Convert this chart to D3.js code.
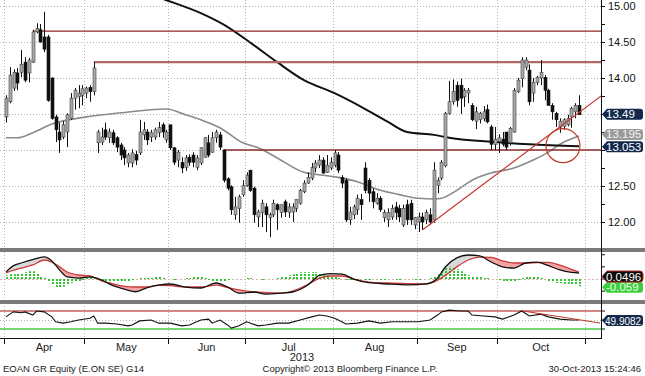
<!DOCTYPE html>
<html>
<head>
<meta charset="utf-8">
<script src="https://cdn.jsdelivr.net/npm/d3@7/dist/d3.min.js"></script>
<style>
  body { margin: 0; background: #fff; }
  svg { display: block; font-family: "Liberation Sans", Arial, sans-serif; }
</style>
</head>
<body>
<div id="chart"></div>
<script>
// EOAN GR daily candles, Apr 2 - Oct 30 2013
// rows are [open, high, low, close]
var ohlc = [
  [13.46,13.76,13.38,13.72],[13.67,14.15,13.65,14.04],[13.86,14.12,13.82,14.08],[14.07,14.14,13.83,13.93],
  [14.08,14.39,14.01,14.19],[14.22,14.29,13.94,13.97],[14.07,14.28,13.94,14.25],[14.22,14.67,14.21,14.64],
  [14.64,14.76,14.62,14.69],[14.67,14.75,14.49,14.50],[14.57,14.92,14.36,14.40],[14.57,14.60,13.67,13.69],
  [14.00,14.01,13.42,13.44],[13.46,13.49,13.11,13.28],[13.25,13.38,12.96,13.14],[13.18,13.40,13.15,13.35],
  [13.25,13.51,13.04,13.49],[13.44,13.79,13.42,13.72],[13.72,13.86,13.56,13.83],[13.74,13.90,13.58,13.79],
  [13.76,13.90,13.62,13.85],[13.79,13.88,13.72,13.86],[13.87,13.90,13.67,13.81],[13.81,14.22,13.76,14.14],
  [13.10,13.28,12.96,13.25],[13.11,13.31,13.07,13.18],[13.28,13.38,13.14,13.18],[13.17,13.30,13.10,13.25],
  [13.24,13.28,13.07,13.10],[13.17,13.19,12.97,13.04],[13.07,13.10,12.86,12.93],[13.00,13.04,12.79,12.89],
  [12.82,12.96,12.76,12.93],[12.82,13.01,12.76,12.96],[12.94,12.99,12.79,12.86],[12.96,13.42,12.93,13.25],
  [13.21,13.39,13.14,13.28],[13.25,13.29,13.07,13.14],[13.18,13.28,13.11,13.24],[13.18,13.31,13.14,13.28],
  [13.24,13.39,13.18,13.31],[13.35,13.38,13.17,13.25],[13.14,13.28,13.10,13.25],[13.35,13.35,13.00,13.03],
  [13.03,13.04,12.79,12.83],[12.86,13.00,12.76,12.97],[12.83,12.90,12.68,12.75],[12.76,12.93,12.71,12.89],
  [12.90,12.94,12.78,12.83],[12.93,12.97,12.76,12.83],[12.76,12.93,12.72,12.89],[12.82,13.04,12.79,13.03],
  [12.90,13.18,12.89,13.17],[13.10,13.21,12.90,12.93],[12.97,13.25,12.96,13.17],[13.17,13.28,13.10,13.25],
  [13.21,13.25,13.00,13.04],[13.00,13.01,12.55,12.58],[12.60,12.62,12.44,12.47],[12.49,12.51,12.10,12.17],
  [12.10,12.35,12.03,12.21],[12.19,12.38,11.99,12.35],[12.38,12.58,12.35,12.51],[12.51,12.69,12.49,12.65],
  [12.72,12.72,12.42,12.44],[12.47,12.49,11.99,12.10],[12.07,12.17,11.93,12.14],[12.13,12.31,11.93,12.26],
  [12.21,12.26,11.86,12.10],[12.06,12.13,11.79,12.10],[12.10,12.31,12.07,12.26],[12.24,12.26,11.89,12.17],
  [12.13,12.24,12.06,12.24],[12.28,12.31,12.07,12.14],[12.13,12.26,12.06,12.21],[12.14,12.26,12.00,12.21],
  [12.19,12.31,12.14,12.31],[12.26,12.46,12.24,12.44],[12.42,12.58,12.40,12.54],[12.54,12.69,12.53,12.62],
  [12.61,12.82,12.58,12.76],[12.75,12.86,12.69,12.82],[12.79,12.93,12.75,12.86],[12.86,12.90,12.67,12.68],
  [12.69,12.93,12.68,12.79],[12.75,12.90,12.72,12.83],[12.79,13.00,12.76,12.96],[12.93,12.97,12.68,12.72],
  [12.62,12.65,12.47,12.54],[12.58,12.61,12.00,12.03],[12.03,12.21,11.96,12.14],[12.10,12.24,12.04,12.21],
  [12.17,12.38,12.10,12.33],[12.31,12.39,12.03,12.24],[12.75,12.83,12.40,12.44],[12.58,12.61,12.28,12.40],
  [12.42,12.47,12.19,12.28],[12.26,12.40,12.24,12.33],[12.33,12.36,12.14,12.17],[12.06,12.17,12.00,12.13],
  [12.03,12.19,11.93,12.13],[12.07,12.24,12.03,12.19],[12.21,12.28,12.03,12.13],[12.19,12.24,12.00,12.07],
  [11.96,12.24,11.93,12.19],[12.24,12.31,11.96,12.03],[12.26,12.31,11.96,12.03],[11.96,12.07,11.90,12.06],
  [12.00,12.13,11.86,12.07],[12.07,12.13,11.89,12.00],[12.03,12.17,11.97,12.13],[12.10,12.19,11.96,12.00],
  [12.03,12.83,11.99,12.72],[12.51,12.62,12.40,12.58],[12.61,12.86,12.58,12.83],[12.78,13.53,12.76,13.51],
  [13.51,13.96,13.49,13.67],[13.67,13.98,13.63,13.81],[13.90,13.95,13.60,13.69],[13.90,13.99,13.50,13.72],
  [13.74,13.86,13.60,13.83],[13.79,13.86,13.65,13.83],[13.62,13.65,13.40,13.42],[13.40,13.60,13.29,13.53],
  [13.42,13.53,13.37,13.51],[13.44,13.61,13.40,13.53],[13.56,13.63,13.37,13.39],[13.32,13.35,13.00,13.08],
  [13.08,13.32,13.00,13.15],[13.12,13.22,12.96,13.17],[13.15,13.25,13.05,13.08],[13.25,13.25,13.00,13.04],
  [13.10,13.32,13.06,13.30],[13.25,13.86,13.24,13.83],[13.81,14.00,13.79,13.97],[13.99,14.29,13.87,14.25],
  [14.15,14.29,14.11,14.25],[14.11,14.19,13.62,13.67],[13.79,14.00,13.67,13.94],[13.94,14.03,13.90,14.01],
  [14.00,14.25,13.90,14.08],[14.01,14.04,13.69,13.83],[13.83,13.85,13.62,13.62],[13.62,13.65,13.42,13.53],
  [13.51,13.53,13.32,13.42],[13.32,13.44,13.24,13.40],[13.33,13.44,13.28,13.42],[13.35,13.49,13.33,13.44],
  [13.46,13.60,13.31,13.58],[13.53,13.65,13.44,13.62],[13.62,13.76,13.49,13.49]
];

// moving averages, sampled at trading-day index
var ma200Days = [30, 42, 51, 57, 64, 71, 78, 86, 93, 100, 105, 112, 116, 128, 137, 150];
var ma200 = [15.30, 15.08, 14.90, 14.74, 14.49, 14.22, 13.97, 13.79, 13.60, 13.39, 13.25, 13.21, 13.17, 13.11, 13.08, 13.053];
var ma50Days = [0, 3, 7, 12, 21, 29, 42, 47, 51, 56, 62, 66, 71, 78, 83, 87, 92, 98, 103, 108, 112, 114, 118, 122, 127, 133, 138, 142, 145, 150];
var ma50 = [13.17, 13.17, 13.24, 13.36, 13.46, 13.51, 13.57, 13.49, 13.42, 13.31, 13.10, 13.03, 12.89, 12.69, 12.65, 12.62, 12.56, 12.44, 12.38, 12.33, 12.32, 12.33, 12.44, 12.58, 12.68, 12.75, 12.86, 12.97, 13.08, 13.195];

// drawn-in analysis lines
var levelPrice = [14.65, 14.22, 13.00];
var levelFrom = [7, 23, 57];
var trendDays = [109, 155.8];
var trendPrice = [11.89, 13.75];

// MACD panel
var macdDays = [0,2,4,7,10,12,14,16,19,22,25,28,31,34,37,40,43,47,51,55,58,61,65,68,72,75,79,82,85,88,91,95,100,105,110,113,115,118,121,124,127,130,133,136,139,142,145,148,150];
var macd = [0.058,0.11,0.132,0.16,0.182,0.149,0.075,0.017,0.008,0.017,-0.008,-0.055,-0.083,-0.105,-0.07,-0.05,-0.041,-0.066,-0.074,-0.033,-0.066,-0.116,-0.107,-0.124,-0.116,-0.107,-0.05,0.03,0.045,0.04,0.0,-0.03,-0.041,-0.048,-0.04,0.008,0.099,0.174,0.198,0.19,0.14,0.10,0.09,0.132,0.14,0.11,0.075,0.055,0.0496];
var signal = [0.05,0.074,0.09,0.116,0.157,0.14,0.10,0.058,0.033,0.025,-0.015,-0.04,-0.06,-0.066,-0.066,-0.05,-0.055,-0.066,-0.066,-0.05,-0.07,-0.09,-0.107,-0.113,-0.116,-0.099,-0.045,0.005,0.025,0.025,0.0,-0.025,-0.033,-0.038,-0.041,-0.01,0.03,0.10,0.157,0.18,0.178,0.15,0.132,0.132,0.135,0.138,0.115,0.08,0.058];
var hist = [
  .032,.040,.040,.048,.048,.056,.064,.064,.048,.024,.008,
  -.024,-.048,-.064,-.072,-.064,-.048,-.032,-.024,-.016,-.008,
  .008,.016,.008,
  -.008,-.024,-.032,-.032,-.024,
  -.024,-.024,-.016,-.016,-.008,
  0,.008,.008,.008,.008,.016,.016,.008,
  0,0,-.008,0,0,.008,.008,
  .016,.024,.016,.008,
  -.008,-.016,-.024,-.024,
  -.016,-.008,0,0,
  0,0,.008,.008,0,0,-.008,0,0,0,
  .008,.016,.024,.032,.040,.048,.056,.056,.056,.056,
  .056,.048,.040,.032,.024,.016,
  .008,0,-.008,-.008,-.008,-.008,
  0,-.008,-.008,0,0,-.008,-.008,0,0,-.008,-.008,0,0,0,-.008,-.008,0,0,
  .008,.024,.040,
  .072,.096,.104,.096,.080,
  .064,.048,.032,.024,
  .016,.016,.008,.008,0,0,
  -.008,-.016,-.024,-.024,-.016,-.008,
  .008,.016,.016,.016,.016,.008,0,
  -.016,-.024,-.032,-.032,-.040,-.040,-.048,-.048,-.059
];

// RSI panel
var rsiDays = [0,1,2,4,5,7,8,10,12,13,15,17,19,22,23,24,26,29,32,33,35,38,40,43,46,48,51,53,54,56,58,59,61,63,66,68,71,74,77,80,82,84,86,87,89,92,95,98,101,105,108,111,113,114,116,119,121,122,125,128,130,133,135,137,140,142,145,148,150];
var rsi = [57,63,68,66,68,61,70,68,57,46,43,46,50,54,59,43,43,41,37,39,48,50,43,43,37,39,50,52,43,50,39,32,37,46,37,39,43,43,50,57,61,59,54,50,41,43,48,43,46,46,46,50,61,68,72,70,70,61,59,57,52,61,70,59,63,57,52,50,49.9082];
var rsiTrendDays = [135.3, 155.5];
var rsiTrend = [70, 43.3];

var priceTicks = [15, 14.5, 14, 13.5, 13, 12.5, 12];
var priceLabels = [15, 14.5, 14, 12.5, 12];   // 13.50 and 13.00 sit under the value tags
var monthNames = ["Apr", "May", "Jun", "Jul", "Aug", "Sep", "Oct"];
var holidays = ["2013-05-01"];

// ---------------------------------------------------------------

var width = 645, height = 376;
var plotR = 601;

var svg = d3.select("#chart").append("svg")
    .attr("width", width)
    .attr("height", height);

var fmtDay = d3.timeFormat("%Y-%m-%d");
var days = d3.timeDay.range(new Date(2013, 3, 2), new Date(2013, 10, 2))
    .filter(function(d) { return d.getDay() > 0 && d.getDay() < 6 && holidays.indexOf(fmtDay(d)) < 0; });

// first trading day of each month
var monthStarts = [];
days.forEach(function(d, i) {
    if (i == 0 || d.getMonth() != days[i-1].getMonth()) monthStarts.push(i);
});

var x = d3.scaleLinear().domain([0, 150]).range([6, 579]);
var y = d3.scaleLinear().domain([11.75, 15]).range([240, 6]);
var yM = d3.scaleLinear().domain([-0.173, 0.231]).range([300, 251]);
var yR = d3.scaleLinear().domain([30, 70]).range([329, 311]);

var defs = svg.append("defs");
defs.append("clipPath").attr("id", "clipMain")
    .append("rect").attr("x", 0).attr("y", 0).attr("width", plotR).attr("height", 248);
defs.append("clipPath").attr("id", "clipMacd")
    .append("rect").attr("x", 0).attr("y", 252).attr("width", plotR).attr("height", 49);

// gridlines
var grid = svg.append("g").attr("stroke", "#b4b4b4").attr("stroke-dasharray", "1,2");
grid.selectAll(".hg").data(priceTicks).enter().append("line")
    .attr("x1", 0).attr("x2", plotR)
    .attr("y1", function(d) { return Math.round(y(d)) + 0.5; })
    .attr("y2", function(d) { return Math.round(y(d)) + 0.5; });
grid.selectAll(".vg").data(monthStarts).enter().append("line")
    .attr("x1", function(d) { return Math.round(x(d - 0.5)) + 0.5; })
    .attr("x2", function(d) { return Math.round(x(d - 0.5)) + 0.5; })
    .attr("y1", 0).attr("y2", 338);
grid.append("line").attr("x1", 0).attr("x2", plotR).attr("y1", Math.round(yR(50)) + 0.5).attr("y2", Math.round(yR(50)) + 0.5);

// ---- main panel
var main = svg.append("g").attr("clip-path", "url(#clipMain)");

var lineMA = d3.line().curve(d3.curveMonotoneX);

main.append("path")
    .attr("d", lineMA(ma50Days.map(function(d, i) { return [x(d), y(ma50[i])]; })))
    .attr("fill", "none").attr("stroke", "#8a8a8a").attr("stroke-width", 1.6);

main.append("path")
    .attr("d", lineMA(ma200Days.map(function(d, i) { return [x(d), y(ma200[i])]; })))
    .attr("fill", "none").attr("stroke", "#111").attr("stroke-width", 2);

// horizontal levels
var lvlColor = ["#8e2a2a", "#b06868", "#8e2a2a"];
var lvlWidth = [1.3, 2.2, 1.3];
main.selectAll(".lvl").data(levelPrice).enter().append("line")
    .attr("x1", function(d, i) { return x(levelFrom[i]); })
    .attr("x2", plotR)
    .attr("y1", function(d) { return y(d); })
    .attr("y2", function(d) { return y(d); })
    .attr("stroke", function(d, i) { return lvlColor[i]; })
    .attr("stroke-width", function(d, i) { return lvlWidth[i]; });

// candles
var candle = main.selectAll(".c").data(ohlc).enter().append("g");
candle.append("line")
    .attr("x1", function(d, i) { return Math.round(x(i)) + 0.5; })
    .attr("x2", function(d, i) { return Math.round(x(i)) + 0.5; })
    .attr("y1", function(d) { return y(d[1]); })
    .attr("y2", function(d) { return y(d[2]); })
    .attr("stroke", "#111").attr("stroke-width", 1);
candle.append("rect")
    .attr("x", function(d, i) { return Math.round(x(i)) - 1; })
    .attr("width", 3)
    .attr("y", function(d) { return y(Math.max(d[0], d[3])); })
    .attr("height", function(d) { return Math.max(1, Math.abs(y(d[0]) - y(d[3]))); })
    .attr("fill", function(d) { return d[3] >= d[0] ? "#a8a8a8" : "#111"; })
    .attr("stroke", function(d) { return d[3] >= d[0] ? "#444" : "#111"; })
    .attr("stroke-width", 0.6);

// trend line and circle
main.append("line")
    .attr("x1", x(trendDays[0])).attr("y1", y(trendPrice[0]))
    .attr("x2", x(trendDays[1])).attr("y2", y(trendPrice[1]))
    .attr("stroke", "#c0392b").attr("stroke-width", 1.2);
main.append("circle")
    .attr("cx", x(145.8)).attr("cy", y(13.06)).attr("r", 17)
    .attr("fill", "none").attr("stroke", "#c0392b").attr("stroke-width", 1.2);

// ---- MACD panel
var macdPts = macdDays.map(function(d, i) { return { x: x(d), m: yM(macd[i]), s: yM(signal[i]) }; });
var aboveClip = defs.append("clipPath").attr("id", "aboveMacd");
aboveClip.append("path").attr("d", d3.area().curve(d3.curveMonotoneX)
    .x(function(d) { return d.x; }).y0(251).y1(function(d) { return d.m; })(macdPts));
var belowClip = defs.append("clipPath").attr("id", "belowMacd");
belowClip.append("path").attr("d", d3.area().curve(d3.curveMonotoneX)
    .x(function(d) { return d.x; }).y0(function(d) { return d.m; }).y1(300)(macdPts));

var between = d3.area().curve(d3.curveMonotoneX)
    .x(function(d) { return d.x; }).y0(function(d) { return d.s; }).y1(function(d) { return d.m; });

var macdG = svg.append("g").attr("clip-path", "url(#clipMacd)");
macdG.append("g").attr("clip-path", "url(#aboveMacd)")
    .append("path").attr("d", between(macdPts)).attr("fill", "#f4a3a3");
macdG.append("g").attr("clip-path", "url(#belowMacd)")
    .append("path").attr("d", between(macdPts)).attr("fill", "#d9d9d9");

macdG.append("line").attr("x1", 0).attr("x2", plotR)
    .attr("y1", Math.round(yM(0)) + 0.5).attr("y2", Math.round(yM(0)) + 0.5)
    .attr("stroke", "#d8b0b0").attr("stroke-dasharray", "2,2");

macdG.selectAll(".h").data(hist).enter().append("line")
    .attr("x1", function(d, i) { return Math.round(x(i)) + 1; })
    .attr("x2", function(d, i) { return Math.round(x(i)) + 1; })
    .attr("y1", Math.round(yM(0)))
    .attr("y2", function(d) { return yM(d); })
    .attr("stroke", "#2fc62f").attr("stroke-width", 2).attr("stroke-dasharray", "2,1");

macdG.append("path")
    .attr("d", d3.line().curve(d3.curveMonotoneX).x(function(d) { return d.x; }).y(function(d) { return d.s; })(macdPts))
    .attr("fill", "none").attr("stroke", "#cc3b3b").attr("stroke-width", 1.3);
macdG.append("path")
    .attr("d", d3.line().curve(d3.curveMonotoneX).x(function(d) { return d.x; }).y(function(d) { return d.m; })(macdPts))
    .attr("fill", "none").attr("stroke", "#111").attr("stroke-width", 1.3);

// ---- RSI panel
svg.append("line").attr("x1", 0).attr("x2", plotR).attr("y1", yR(70)).attr("y2", yR(70))
    .attr("stroke", "#c46060").attr("stroke-width", 1.4);
svg.append("line").attr("x1", 0).attr("x2", plotR).attr("y1", yR(30)).attr("y2", yR(30))
    .attr("stroke", "#44cc44").attr("stroke-width", 1.4);
svg.append("path")
    .attr("d", d3.line()(rsiDays.map(function(d, i) { return [x(d), yR(rsi[i])]; })))
    .attr("fill", "none").attr("stroke", "#111").attr("stroke-width", 1.1);
svg.append("line")
    .attr("x1", x(rsiTrendDays[0])).attr("y1", yR(rsiTrend[0]))
    .attr("x2", x(rsiTrendDays[1])).attr("y2", yR(rsiTrend[1]))
    .attr("stroke", "#c0392b").attr("stroke-width", 1.1);

// ---- frame: panel separators, axes
svg.append("rect").attr("x", 0).attr("y", 248).attr("width", width).attr("height", 4).attr("fill", "#7a7a7a");
svg.append("rect").attr("x", 0).attr("y", 300).attr("width", width).attr("height", 4).attr("fill", "#7a7a7a");
svg.append("line").attr("x1", plotR + 0.5).attr("x2", plotR + 0.5).attr("y1", 0).attr("y2", 339)
    .attr("stroke", "#111");
svg.append("line").attr("x1", 0).attr("x2", plotR).attr("y1", 338.5).attr("y2", 338.5)
    .attr("stroke", "#111");

// right price axis
var yAxis = d3.axisRight(y).tickValues(d3.range(12, 15.01, 0.25)).tickSize(4)
    .tickFormat(function(d) { return priceLabels.indexOf(d) >= 0 ? d3.format(".2f")(d) : ""; });
var ya = svg.append("g").attr("transform", "translate(" + plotR + ",0)").call(yAxis);
ya.select(".domain").remove();
ya.selectAll("text").attr("x", 7).attr("font-size", 11).attr("fill", "#111")
    .attr("font-family", "Liberation Sans, Arial, sans-serif");
ya.selectAll("line").attr("stroke", "#111");

// small ticks on lower panels
var rTicks = svg.append("g").attr("stroke", "#111");
[yM(0.2), yM(0.1), yM(0), yM(-0.1), yR(70), yR(50), yR(30)].forEach(function(v) {
    rTicks.append("line").attr("x1", plotR).attr("x2", plotR + 4).attr("y1", v).attr("y2", v);
});

// bottom month axis
var xa = svg.append("g");
monthStarts.forEach(function(m) {
    xa.append("line")
        .attr("x1", Math.round(x(m - 0.5)) + 0.5).attr("x2", Math.round(x(m - 0.5)) + 0.5)
        .attr("y1", 338).attr("y2", 344).attr("stroke", "#111");
});
monthNames.forEach(function(name, k) {
    xa.append("text")
        .attr("x", (x(monthStarts[k] - 0.5) + x(monthStarts[k + 1] - 0.5)) / 2)
        .attr("y", 351).attr("text-anchor", "middle")
        .attr("font-size", 11).attr("fill", "#222")
        .text(name);
});
xa.append("text").attr("x", 302).attr("y", 361).attr("text-anchor", "middle")
    .attr("font-size", 11).attr("fill", "#222").text("2013");

// value tags on the right
function tag(yc, label, fill, colour, edge) {
    var g = svg.append("g");
    var x0 = 602, h = 5.5, r = 3, x1 = 643;
    g.append("path")
        .attr("d", "M" + x0 + "," + yc + "L" + (x0 + 5) + "," + (yc - h) + "L" + (x1 - r) + "," + (yc - h) +
                   "Q" + x1 + "," + (yc - h) + " " + x1 + "," + (yc - h + r) +
                   "L" + x1 + "," + (yc + h - r) + "Q" + x1 + "," + (yc + h) + " " + (x1 - r) + "," + (yc + h) +
                   "L" + (x0 + 5) + "," + (yc + h) + "Z")
        .attr("fill", fill)
        .attr("stroke", edge || "none").attr("stroke-width", 1);
    var long = label.length > 6;
    g.append("text").attr("x", long ? 605 : 606).attr("y", yc + 4)
        .attr("font-size", long ? 10 : 11.5).attr("fill", colour).text(label);
}
tag(y(13.49) - 0.5, "13.49", "#13294b", "#fff");
tag(y(13.195) - 1.5, "13.195", "#999", "#f4f4f4");
tag(y(13.053) + 0.5, "13.053", "#13294b", "#fff");
tag(yM(-0.059) + 1, "-0.059", "#3ccf3c", "#eaffea");
tag(yM(0.0496) + 3.5, "0.0496", "#0a0a0a", "#fff", "#b83030");
tag(yR(49.9082) + 0.5, "49.9082", "#13294b", "#fff");

// footer
var foot = svg.append("g").attr("font-family", "Liberation Sans, Arial, sans-serif").attr("font-size", 9.5).attr("fill", "#222");
foot.append("text").attr("x", 3).attr("y", 372).text("EOAN GR Equity (E.ON SE) G14");
foot.append("text").attr("x", 350).attr("y", 372).attr("text-anchor", "middle")
    .text("Copyright\u00a9 2013 Bloomberg Finance L.P.");
foot.append("text").attr("x", 641).attr("y", 372).attr("text-anchor", "end")
    .text("30-Oct-2013 15:24:46");
</script>
</body>
</html>
